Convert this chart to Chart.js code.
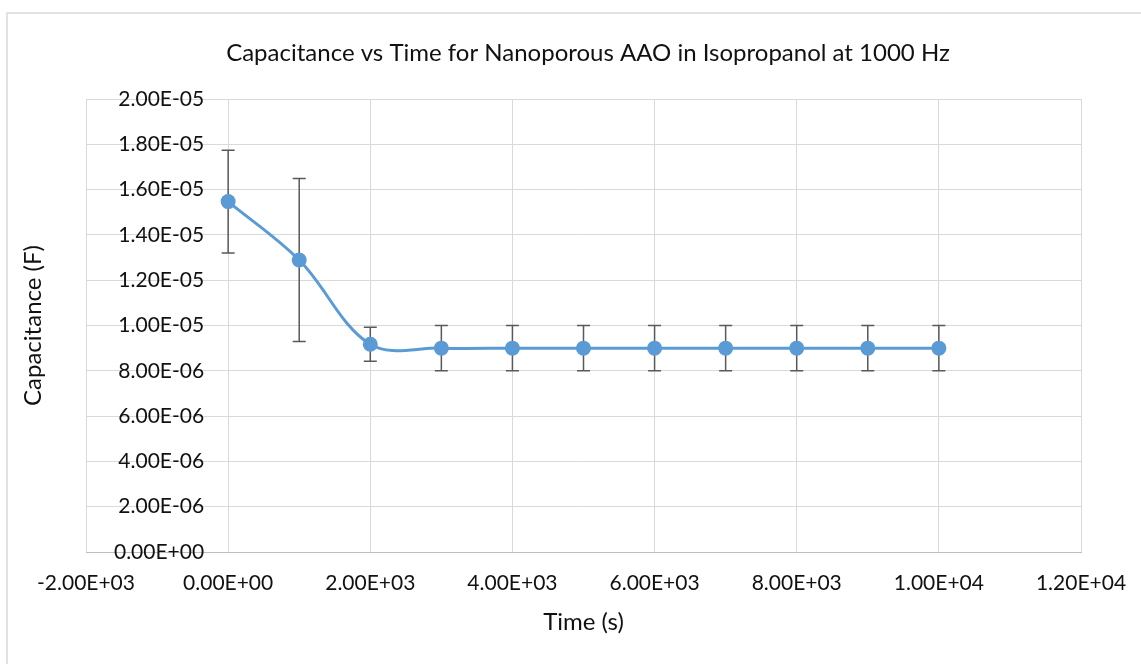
<!DOCTYPE html>
<html><head><meta charset="utf-8">
<script src="https://cdn.jsdelivr.net/npm/chart.js@4/dist/chart.umd.min.js"></script>
<style>html,body{margin:0;padding:0;background:#fff;overflow:hidden;} canvas{display:block;}</style>
</head><body>
<canvas id="c" width="1141" height="664"></canvas>
<script>
const chartTitle = 'Capacitance vs Time for Nanoporous AAO in Isopropanol at 1000 Hz';
const xTitle = 'Time (s)';
const yTitle = 'Capacitance (F)';
const timeS = [0, 1000, 2000, 3000, 4000, 5000, 6000, 7000, 8000, 9000, 10000];
const capacitanceF = [1.547e-5, 1.289e-5, 9.17e-6, 9.0e-6, 9.0e-6, 9.0e-6, 9.0e-6, 9.0e-6, 9.0e-6, 9.0e-6, 9.0e-6];
const errorF = [2.27e-6, 3.6e-6, 0.75e-6, 1.0e-6, 1.0e-6, 1.0e-6, 1.0e-6, 1.0e-6, 1.0e-6, 1.0e-6, 1.0e-6];
const xTickValues = [-2000, 0, 2000, 4000, 6000, 8000, 10000, 12000];
const xTickLabels = ['-2.00E+03', '0.00E+00', '2.00E+03', '4.00E+03', '6.00E+03', '8.00E+03', '1.00E+04', '1.20E+04'];
const yTickValues = [0, 2e-6, 4e-6, 6e-6, 8e-6, 1e-5, 1.2e-5, 1.4e-5, 1.6e-5, 1.8e-5, 2e-5];
const yTickLabels = ['0.00E+00', '2.00E-06', '4.00E-06', '6.00E-06', '8.00E-06', '1.00E-05', '1.20E-05', '1.40E-05', '1.60E-05', '1.80E-05', '2.00E-05'];

const FONT = 'Lato, "Open Sans", sans-serif';
const TXT = '#111111';

const frame = {
  id: 'frame',
  beforeDraw(chart) {
    const ctx = chart.ctx;
    ctx.save();
    ctx.fillStyle = '#ffffff';
    ctx.fillRect(0, 0, chart.width, chart.height);
    ctx.strokeStyle = '#d9d9d9';
    ctx.lineWidth = 1.5;
    ctx.strokeRect(7, 13, chart.width + 50, chart.height + 50);
    ctx.restore();
  }
};

const errorBars = {
  id: 'errorBars',
  beforeDatasetsDraw(chart) {
    const {ctx, scales: {x, y}} = chart;
    ctx.save();
    ctx.strokeStyle = '#595959';
    ctx.lineWidth = 1.5;
    timeS.forEach((t, i) => {
      const px = x.getPixelForValue(t);
      const top = y.getPixelForValue(capacitanceF[i] + errorF[i]);
      const bot = y.getPixelForValue(capacitanceF[i] - errorF[i]);
      ctx.beginPath();
      ctx.moveTo(px, top); ctx.lineTo(px, bot);
      ctx.moveTo(px - 6.5, top); ctx.lineTo(px + 6.5, top);
      ctx.moveTo(px - 6.5, bot); ctx.lineTo(px + 6.5, bot);
      ctx.stroke();
    });
    ctx.restore();
  }
};

new Chart(document.getElementById('c'), {
  type: 'scatter',
  data: {
    datasets: [{
      data: timeS.map((t, i) => ({x: t, y: capacitanceF[i]})),
      showLine: true,
      borderColor: '#5b9bd5',
      backgroundColor: '#5b9bd5',
      borderWidth: 3,
      tension: 0.35,
      pointRadius: 7.5,
      pointBorderWidth: 0,
      pointBackgroundColor: '#5b9bd5'
    }]
  },
  options: {
    responsive: false,
    animation: false,
    devicePixelRatio: 1,
    layout: {padding: {left: 35, right: 0, top: 0, bottom: 0}},
    plugins: {
      legend: {display: false},
      tooltip: {enabled: false},
      title: {
        display: true, text: chartTitle, color: TXT,
        font: {family: FONT, size: 24, weight: 'normal', lineHeight: 1.2},
        padding: {top: 38.6, bottom: 31.6}
      }
    },
    scales: {
      x: {
        type: 'linear', min: -2000, max: 12000,
        afterBuildTicks: s => { s.ticks = xTickValues.map(v => ({value: v})); },
        afterFit: s => { s.height = 112; s.paddingLeft = 0; s.paddingRight = 0; },
        grid: {color: '#d9d9d9', drawTicks: false, lineWidth: 1},
        border: {display: true, color: '#bfbfbf', width: 1},
        ticks: {
          padding: 18.4, color: TXT, maxRotation: 0, autoSkip: false,
          font: {family: FONT, size: 21, lineHeight: 1.2},
          callback: (v, i) => xTickLabels[i]
        },
        title: {
          display: true, text: xTitle, color: TXT,
          font: {family: FONT, size: 24, lineHeight: 1.2},
          padding: {top: 0, bottom: 27.6}
        }
      },
      y: {
        type: 'linear', position: 'left', min: 0, max: 2e-5,
        afterBuildTicks: s => { s.ticks = yTickValues.map(v => ({value: v})); },
        afterFit: s => { s.width = 51; },
        grid: {color: '#d9d9d9', drawTicks: false, lineWidth: 1},
        border: {display: false},
        ticks: {display: false},
        title: {
          display: true, text: yTitle, color: TXT,
          font: {family: FONT, size: 24, lineHeight: 1.2},
          padding: {top: -16.4, bottom: 0}
        }
      },
      y2: {
        type: 'linear', position: {x: -338}, min: 0, max: 2e-5,
        afterBuildTicks: s => { s.ticks = yTickValues.map(v => ({value: v})); },
        grid: {display: false},
        border: {display: false},
        ticks: {
          color: TXT, font: {family: FONT, size: 21, lineHeight: 1.2},
          callback: (v, i) => yTickLabels[i]
        }
      },
      yRightMargin: {
        type: 'linear', position: 'right', min: 0, max: 1,
        afterFit: s => { s.width = 60; },
        grid: {display: false},
        border: {display: false},
        ticks: {display: false}
      }
    }
  },
  plugins: [frame, errorBars]
});
</script>
</body></html>
